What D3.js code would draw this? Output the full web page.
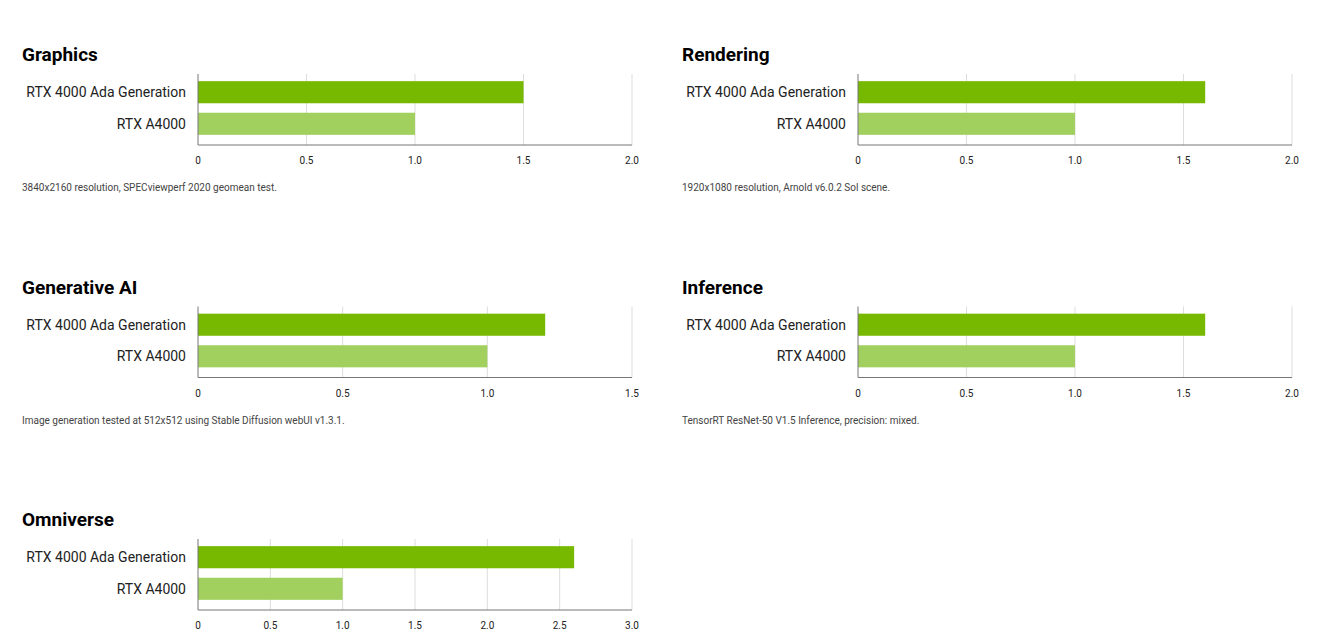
<!DOCTYPE html>
<html><head><meta charset="utf-8">
<script src="https://cdn.jsdelivr.net/npm/d3@7"></script>
<style>body{margin:0;background:#fff;font-family:Roboto,"Liberation Sans",sans-serif}</style>
</head><body><svg id="c" width="1330" height="642"></svg>
<script>
const gpus = ['RTX 4000 Ada Generation', 'RTX A4000'];
const titles = ['Graphics', 'Rendering', 'Generative AI', 'Inference', 'Omniverse'];
const notes = ['3840x2160 resolution, SPECviewperf 2020 geomean test.',
  '1920x1080 resolution, Arnold v6.0.2 Sol scene.',
  'Image generation tested at 512x512 using Stable Diffusion webUI v1.3.1.',
  'TensorRT ResNet-50 V1.5 Inference, precision: mixed.', ''];
const values = [[1.5, 1.0], [1.6, 1.0], [1.2, 1.0], [1.6, 1.0], [2.6, 1.0]];
const maxes = [2.0, 2.0, 1.5, 2.0, 3.0];
const ticks = [[0,0.5,1,1.5,2],[0,0.5,1,1.5,2],[0,0.5,1,1.5],[0,0.5,1,1.5,2],[0,0.5,1,1.5,2,2.5,3]];
const colors = ['#76b900', '#a2d05f'];

const svg = d3.select('#c');
titles.forEach((t, i) => {
  const ox = i % 2 ? 660 : 0, oy = Math.floor(i / 2) * 232.5;
  const g = svg.append('g').attr('transform', `translate(${ox},${oy})`);
  const x = d3.scaleLinear().domain([0, maxes[i]]).range([198, 632]);
  const y = d3.scaleBand().domain(gpus).range([78, 138]).paddingInner(0.3).paddingOuter(0.1);
  g.append('text').attr('x', 22).attr('y', 61).attr('font-size', 19).attr('font-weight', 'bold').attr('fill', '#000').text(t);
  g.selectAll('.grid').data(ticks[i].slice(1)).enter().append('line')
    .attr('x1', d => x(d)).attr('x2', d => x(d)).attr('y1', 74).attr('y2', 145)
    .attr('stroke', '#ddd');
  g.selectAll('rect').data(values[i]).enter().append('rect')
    .attr('x', x(0)).attr('y', (d, j) => y(gpus[j])).attr('height', y.bandwidth())
    .attr('width', d => x(d) - x(0)).attr('fill', (d, j) => colors[j]);
  g.append('line').attr('x1', 198).attr('x2', 198).attr('y1', 74).attr('y2', 145).attr('stroke', '#777');
  g.append('line').attr('x1', 198).attr('x2', 632).attr('y1', 145).attr('y2', 145).attr('stroke', '#777');
  g.selectAll('.yl').data(gpus).enter().append('text')
    .attr('x', 186).attr('y', d => y(d) + y.bandwidth() / 2 + 5).attr('text-anchor', 'end')
    .attr('font-size', 14).attr('fill', '#222').text(d => d);
  g.selectAll('.tl').data(ticks[i]).enter().append('text')
    .attr('x', d => x(d)).attr('y', 164).attr('text-anchor', 'middle')
    .attr('font-size', 10).attr('fill', '#222').text(d => d === 0 ? '0' : d.toFixed(1));
  g.append('text').attr('x', 22).attr('y', 191).attr('font-size', 10).attr('fill', '#444').text(notes[i]);
});
</script></body></html>
